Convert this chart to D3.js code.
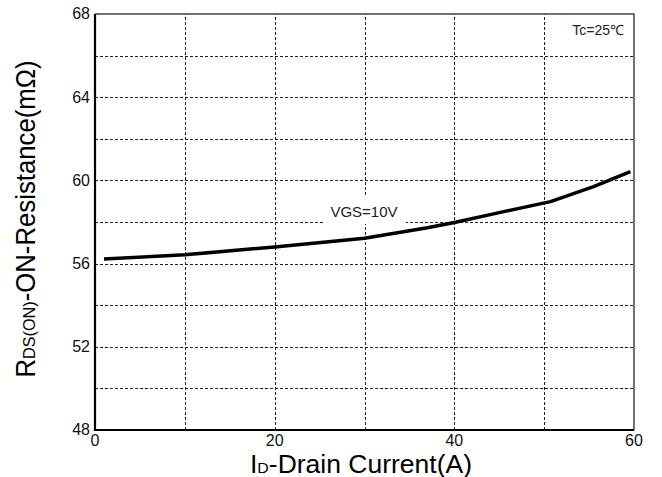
<!DOCTYPE html>
<html>
<head>
<meta charset="utf-8">
<script src="https://cdn.jsdelivr.net/npm/d3@7"></script>
<style>
  body { margin: 0; background: #fff; }
  svg { display: block; font-family: Arial, "Liberation Sans", sans-serif; }
</style>
</head>
<body>
<div class="chart"></div>
<script>
// drain current (A) vs on-resistance (mOhm)
var current    = [1, 10, 20, 30, 37, 40, 45, 50.7, 55.5, 59.6]
var resistance = [56.22, 56.42, 56.8, 57.22, 57.72, 57.98, 58.45, 58.98, 59.7, 60.42]

var xTicks = [0, 20, 40, 60]
var yTicks = [48, 52, 56, 60, 64, 68]
var xGrid = d3.range(0, 61, 10)
var yGrid = d3.range(48, 69, 2)

var width = 662, height = 477
var margin = {left: 95, right: 28, top: 14, bottom: 47}

var svg = d3.select('.chart').append('svg')
  .attr('width', width)
  .attr('height', height)

var x = d3.scaleLinear().domain([0, 60]).range([margin.left, width - margin.right])
var y = d3.scaleLinear().domain([48, 68]).range([height - margin.bottom, margin.top])

// dashed grid
svg.append('g').selectAll('line').data(xGrid.slice(1, -1)).join('line')
  .attr('x1', d => Math.round(x(d)) + .5).attr('x2', d => Math.round(x(d)) + .5)
  .attr('y1', y(48)).attr('y2', y(68))
  .attr('stroke', '#222').attr('stroke-width', 1).attr('stroke-dasharray', '3,2')

svg.append('g').selectAll('line').data(yGrid.slice(1, -1)).join('line')
  .attr('x1', x(0)).attr('x2', x(60))
  .attr('y1', d => Math.round(y(d)) + .5).attr('y2', d => Math.round(y(d)) + .5)
  .attr('stroke', '#222').attr('stroke-width', 1).attr('stroke-dasharray', '3,2')

// frame: top/right thinner, left/bottom heavy
svg.append('path')
  .attr('d', `M${x(0)},${y(68)}H${x(60)}V${y(48)}`)
  .attr('fill', 'none').attr('stroke', '#444').attr('stroke-width', 1.5)
svg.append('path')
  .attr('d', `M${x(0)},${y(68)}V${y(48)}H${x(60)}`)
  .attr('fill', 'none').attr('stroke', '#000').attr('stroke-width', 2.2)

// tick labels
svg.append('g').selectAll('text').data(yTicks).join('text')
  .attr('x', x(0) - 5).attr('y', d => y(d)).attr('dy', '0.34em')
  .attr('text-anchor', 'end').attr('font-size', 16).attr('fill', '#111')
  .text(d => d)

svg.append('g').selectAll('text').data(xTicks).join('text')
  .attr('x', d => x(d)).attr('y', y(48) + 16)
  .attr('text-anchor', 'middle').attr('font-size', 16).attr('fill', '#111')
  .text(d => d)

// curve
var line = d3.line()
  .x((d, i) => x(current[i]))
  .y(d => y(d))

svg.append('path')
  .datum(resistance)
  .attr('d', line)
  .attr('fill', 'none').attr('stroke', '#000').attr('stroke-width', 3.5)
  .attr('stroke-linejoin', 'round')

// annotation label with white box over grid
svg.append('rect')
  .attr('x', 323).attr('y', 196).attr('width', 83).attr('height', 28)
  .attr('fill', '#fff')
svg.append('text')
  .attr('x', 364).attr('y', 217)
  .attr('text-anchor', 'middle').attr('font-size', 15).attr('fill', '#222')
  .text('VGS=10V')

svg.append('text')
  .attr('x', 624).attr('y', 35)
  .attr('text-anchor', 'end').attr('font-size', 14).attr('fill', '#222')
  .text('Tc=25℃')

// axis titles
var xt = svg.append('text')
  .attr('x', 361).attr('y', 473)
  .attr('text-anchor', 'middle').attr('font-size', 25).attr('fill', '#000')
  .attr('textLength', 222).attr('lengthAdjust', 'spacingAndGlyphs')
xt.append('tspan').text('I')
xt.append('tspan').attr('font-size', 15).text('D')
xt.append('tspan').text('-Drain Current(A)')

var yt = svg.append('text')
  .attr('transform', 'translate(35,219) rotate(-90)')
  .attr('text-anchor', 'middle').attr('font-size', 27).attr('fill', '#000')
  .attr('textLength', 317).attr('lengthAdjust', 'spacingAndGlyphs')
yt.append('tspan').text('R')
yt.append('tspan').attr('font-size', 17).text('DS(ON)')
yt.append('tspan').text('-ON-Resistance(mΩ)')
</script>
</body>
</html>
